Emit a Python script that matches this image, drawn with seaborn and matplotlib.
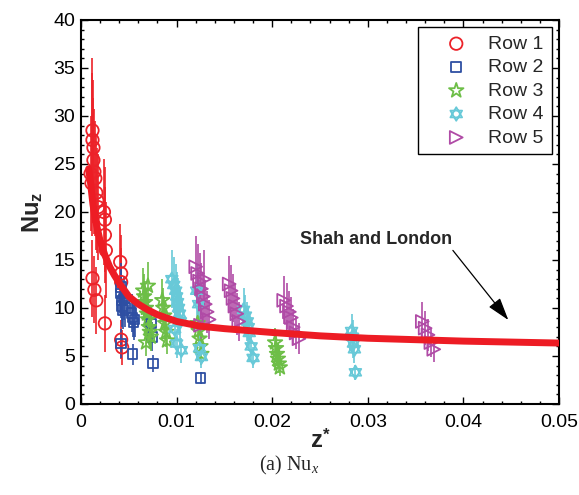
import numpy as np
import matplotlib
matplotlib.use('Agg')
import matplotlib.pyplot as plt
import seaborn as sns
from matplotlib.path import Path
from matplotlib.markers import MarkerStyle

# Row 1 (red circles)
z1 = [0.0010, 0.0011, 0.0012, 0.0012, 0.0013, 0.0013, 0.0014, 0.0015, 0.0016, 0.0017, 0.0018,
      0.0012, 0.0014, 0.0016, 0.0024, 0.0025, 0.0025, 0.0026, 0.0025,
      0.0041, 0.0042, 0.0042, 0.0042, 0.0043]
nu1 = [24.0, 23.0, 28.5, 27.5, 26.7, 25.4, 24.2, 23.5, 22.0, 21.2, 20.5,
       13.1, 11.9, 10.8, 20.0, 19.2, 17.6, 16.0, 8.4,
       14.8, 13.6, 12.7, 6.7, 5.9]
err1 = [6.0, 5.5, 7.5, 7.0, 7.0, 6.5, 6.5, 6.0, 6.0, 5.5, 5.5,
        4.0, 3.5, 3.5, 5.5, 5.5, 5.0, 5.0, 3.0,
        4.0, 4.0, 3.5, 2.0, 1.8]

# Row 2 (blue squares)
z2 = [0.0042, 0.0042, 0.0043, 0.0043, 0.0044, 0.0045, 0.0046, 0.0042,
      0.0053, 0.0054, 0.0055, 0.0056, 0.0054, 0.0073, 0.0074, 0.0075, 0.0125]
nu2 = [12.2, 11.5, 10.8, 10.2, 9.8, 11.0, 10.0, 6.3,
       9.5, 9.0, 8.5, 8.8, 5.2, 8.4, 7.0, 4.2, 2.7]
err2 = [2.5, 2.5, 2.2, 2.2, 2.0, 2.3, 2.0, 1.5,
        2.0, 2.0, 1.8, 1.8, 1.1, 1.8, 1.5, 0.9, 0.6]

# Row 3 (green stars)
z3 = [0.0065, 0.0066, 0.0067, 0.0068, 0.0069, 0.0070, 0.0071, 0.0072, 0.0073, 0.0070, 0.0068,
      0.0085, 0.0086, 0.0087, 0.0088, 0.0089, 0.0090,
      0.0122, 0.0123, 0.0124, 0.0125, 0.0126,
      0.0203, 0.0204, 0.0205, 0.0206, 0.0207, 0.0208]
nu3 = [11.8, 11.2, 10.6, 10.0, 9.4, 8.8, 8.0, 7.5, 7.0, 12.3, 6.4,
       10.8, 10.0, 9.2, 8.4, 7.5, 6.6,
       8.4, 7.6, 6.8, 6.0, 5.2,
       6.4, 5.8, 5.2, 4.7, 4.2, 3.8]
err3 = [2.4, 2.3, 2.2, 2.1, 2.0, 1.8, 1.7, 1.6, 1.5, 2.5, 1.4,
        2.2, 2.1, 1.9, 1.8, 1.6, 1.4,
        1.8, 1.6, 1.5, 1.3, 1.1,
        1.5, 1.3, 1.2, 1.1, 1.0, 0.9]

# Row 4 (cyan hexagrams)
z4 = [0.0095, 0.0097, 0.0099, 0.0100, 0.0101, 0.0102, 0.0103, 0.0104, 0.0098, 0.0100, 0.0105,
      0.0121, 0.0123, 0.0124, 0.0126,
      0.0170, 0.0172, 0.0174, 0.0175, 0.0176, 0.0178, 0.0180,
      0.0283, 0.0284, 0.0285, 0.0286, 0.0287]
nu4 = [13.0, 12.4, 11.8, 11.2, 10.6, 10.0, 9.4, 8.6, 7.8, 6.3, 5.6,
       11.8, 10.4, 5.8, 4.9,
       9.8, 9.2, 8.6, 8.0, 7.4, 6.0, 4.8,
       7.6, 7.0, 6.3, 5.7, 3.3]
err4 = [3.0, 2.9, 2.8, 2.6, 2.5, 2.4, 2.2, 2.0, 1.8, 1.5, 1.3,
        2.8, 2.5, 1.4, 1.2,
        2.3, 2.2, 2.0, 1.9, 1.7, 1.4, 1.1,
        1.8, 1.7, 1.5, 1.4, 0.8]

# Row 5 (magenta triangles)
z5 = [0.0120, 0.0122, 0.0124, 0.0126, 0.0128, 0.0130, 0.0132, 0.0134, 0.0125, 0.0129,
      0.0155, 0.0157, 0.0159, 0.0161, 0.0163, 0.0165,
      0.0212, 0.0215, 0.0218, 0.0220, 0.0222, 0.0225, 0.0228,
      0.0357, 0.0360, 0.0363, 0.0366, 0.0369]
nu5 = [14.3, 13.6, 12.8, 12.0, 11.2, 10.4, 9.6, 8.8, 8.2, 13.0,
       12.5, 11.8, 11.0, 10.2, 9.4, 8.6,
       10.8, 10.2, 9.6, 9.0, 8.0, 7.4, 6.8,
       8.6, 7.9, 7.2, 6.4, 5.7]
err5 = [3.2, 3.1, 2.9, 2.7, 2.6, 2.4, 2.2, 2.0, 1.9, 3.0,
        2.9, 2.7, 2.5, 2.4, 2.2, 2.0,
        2.5, 2.4, 2.2, 2.1, 1.9, 1.7, 1.6,
        2.0, 1.8, 1.7, 1.5, 1.3]

# Shah and London curve
curve_z = [0.0008, 0.0010, 0.00125, 0.0015, 0.0020, 0.0025, 0.0030, 0.0035, 0.0040, 0.0050,
           0.0060, 0.0070, 0.0080, 0.0100, 0.0125, 0.0150, 0.0200, 0.0250, 0.0300, 0.0350,
           0.0400, 0.0450, 0.0500]
curve_nu = [24.5, 23.0, 20.8, 19.2, 17.0, 15.5, 14.3, 13.4, 12.6, 11.2,
            10.4, 9.8, 9.3, 8.6, 8.1, 7.85, 7.45, 7.1, 6.85, 6.7,
            6.55, 6.45, 6.35]

labels = ['Row 1', 'Row 2', 'Row 3', 'Row 4', 'Row 5']
colors = ['#ec2229', '#2e4fa3', '#6dbe47', '#68c9d8', '#b04ba6']

# star of David marker
hexagram = Path(
    [(0, 1), (-0.866, -0.5), (0.866, -0.5), (0, 1),
     (0, -1), (0.866, 0.5), (-0.866, 0.5), (0, -1)],
    [Path.MOVETO, Path.LINETO, Path.LINETO, Path.CLOSEPOLY,
     Path.MOVETO, Path.LINETO, Path.LINETO, Path.CLOSEPOLY])
markers = ['o', 's', '*', MarkerStyle(hexagram), '>']
sizes = [80, 48, 120, 95, 85]

sns.set_style('ticks')
plt.rcParams['font.family'] = ['Liberation Sans', 'DejaVu Sans']
plt.rcParams['mathtext.fontset'] = 'custom'
plt.rcParams['mathtext.rm'] = 'Liberation Sans'
plt.rcParams['mathtext.bf'] = 'Liberation Sans:bold'
plt.rcParams['mathtext.it'] = 'Liberation Serif:italic'

fig = plt.figure(figsize=(5.79, 4.95), dpi=100)
ax = fig.add_axes([81 / 579, 91 / 495, 478 / 579, 384 / 495])

series = [(z1, nu1, err1), (z2, nu2, err2), (z3, nu3, err3), (z4, nu4, err4), (z5, nu5, err5)]
for (z, nu, err), lab, c, m, s in zip(series, labels, colors, markers, sizes):
    ax.errorbar(z, nu, yerr=err, fmt='none', ecolor=c, elinewidth=1.2, capsize=0, zorder=2)
    sns.scatterplot(x=z, y=nu, ax=ax, marker=m, s=s, facecolor='none', edgecolor=c,
                    color=c, linewidth=1.3, label=lab, zorder=3)

sns.lineplot(x=curve_z, y=curve_nu, ax=ax, color='#ed1c24', linewidth=5, zorder=5,
             legend=False)

ax.text(0.0309, 17.1, 'Shah and London', ha='center', va='center', fontsize=13,
        fontweight='bold')
ax.annotate('', xy=(0.0447, 8.75), xytext=(0.0389, 16.0),
            arrowprops=dict(arrowstyle='-|>,head_length=0.7,head_width=0.22',
                            color='black', lw=0.9, mutation_scale=20,
                            shrinkA=0, shrinkB=0))

ax.set_xlim(0, 0.05)
ax.set_ylim(0, 40)
ax.set_xticks([0, 0.01, 0.02, 0.03, 0.04, 0.05])
ax.set_xticklabels(['0', '0.01', '0.02', '0.03', '0.04', '0.05'])
ax.set_yticks(range(0, 41, 5))
ax.set_xticks(np.arange(0, 0.0501, 0.002), minor=True)
ax.set_yticks(range(0, 41, 1), minor=True)
ax.tick_params(which='both', direction='in', top=True, right=True, labelsize=14,
               width=1.0, colors='black')
ax.tick_params(which='major', length=5)
ax.tick_params(which='minor', length=2.5)
ax.tick_params(axis='x', which='major', pad=7)
ax.tick_params(axis='y', which='major', pad=4)
for sp in ax.spines.values():
    sp.set_visible(True)
    sp.set_linewidth(1.5)
    sp.set_color('black')

ax.set_xlabel(r'$\mathbf{z}^{\mathbf{*}}$', fontsize=17, labelpad=-1)
ax.set_ylabel(r'$\mathbf{Nu}_{\mathbf{z}}$', fontsize=17, labelpad=6)

leg = ax.legend(loc='upper right', fontsize=14, frameon=True, fancybox=False,
                edgecolor='black', framealpha=1, handlelength=3.1, handletextpad=0.1,
                labelspacing=0.3, borderpad=0.4, borderaxespad=0.38, scatterpoints=1)
leg.get_frame().set_linewidth(1.0)

fig.text(0.5, 1 - 465 / 495, r'(a) Nu$_{x}$', ha='center', va='center', fontsize=14.5,
         family='Liberation Serif')

fig.savefig('out.png', dpi=100)
